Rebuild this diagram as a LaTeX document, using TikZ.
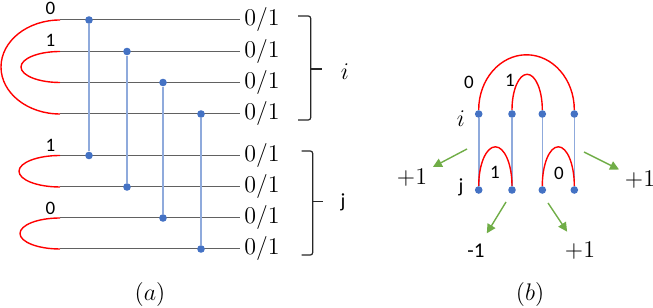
\documentclass[tikz,border=0pt]{standalone}
\usepackage{amsmath}
\usepackage{fontspec}
\setmainfont{Carlito}
\usepackage{tikz}
\usetikzlibrary{
  arrows.meta,
  positioning,
  calc
}
\usepackage{xcolor}
\definecolor{dotblue}{RGB}{68,114,196}
\definecolor{linkblue}{RGB}{143,170,220}
\definecolor{gaingreen}{RGB}{112,173,71}

\tikzset{
  wire/.style={black!62, line width=0.5pt},
  qdot/.style={circle, fill=dotblue, inner sep=0pt, minimum size=3.8pt},
  link/.style={linkblue, line width=0.8pt},
  loopline/.style={red, line width=0.7pt},
  bracket/.style={black!85, line width=0.6pt, rounded corners=1.2pt},
  gain/.style={gaingreen, line width=0.7pt, -{Triangle[length=4.5pt, width=4.5pt]}},
  bit/.style={font=\fontsize{9.5}{11}\selectfont, inner sep=1pt},
  mathlbl/.style={font=\fontsize{11.5}{13}\selectfont, inner sep=1pt},
  outlbl/.style={font=\fontsize{11.5}{13}\selectfont, anchor=west, inner sep=2pt}
}

\begin{document}
\begin{tikzpicture}[x=0.5pt, y=-0.5pt]
  \useasboundingbox (0,0) rectangle (653,308);

  % ---------- (a) ----------
  % Wires and outputs
  \foreach \k/\y in {1/20, 2/51.5, 3/82.5, 4/114, 5/155.5, 6/187, 7/218, 8/249}{
    \coordinate (L\k) at (60,\y);
    \node[outlbl] (o\k) at (240,\y) {$0/1$};
    \draw[wire] (L\k) -- (o\k.west);
  }

  % Red loops on the left
  \draw[loopline] (L1) arc[start angle=270, end angle=90, x radius=59, y radius=47];
  \draw[loopline] (L2) arc[start angle=270, end angle=90, x radius=39, y radius=15.5];
  \draw[loopline] (L5) arc[start angle=270, end angle=90, x radius=41, y radius=15.75];
  \draw[loopline] (L7) arc[start angle=270, end angle=90, x radius=40, y radius=15.5];

  % Bits on the loops
  \node[bit] (b1) at (50.5,8) {0};
  \node[bit] (b2) at (50.5,40) {1};
  \node[bit] (b5) at (50.5,145.5) {1};
  \node[bit] (b7) at (50.5,208.5) {0};

  % Couplings between i and j
  \foreach \c/\x/\ya/\yb in {1/89/20/155.5, 2/127/51.5/187,
                             3/163/82.5/218, 4/201/114/249}{
    \node[qdot] (u\c) at (\x,\ya) {};
    \node[qdot] (v\c) at (\x,\yb) {};
    \draw[link] (u\c) -- (v\c);
  }

  % Brackets
  \draw[bracket] (298,16) -- (310.7,16) -- (310.7,120) -- (298,120);
  \draw[bracket] (310.7,69) -- (321.7,69);
  \draw[bracket] (301.7,151) -- (312.7,151) -- (312.7,255) -- (301.7,255);
  \draw[bracket] (312.7,201.7) -- (322.7,201.7);
  \node[mathlbl] (ilbl) at (345,72) {$i$};
  \node[bit, font=\fontsize{10}{12}\selectfont] (jlbl) at (343,202) {j};

  \node[mathlbl] (capa) at (150,295) {$(a)$};

  % ---------- (b) ----------
  \foreach \k/\x in {1/478.7, 2/512, 3/542.3, 4/574.3}{
    \node[qdot] (ti\k) at (\x,114) {};
    \node[qdot] (bj\k) at (\x,190) {};
    \draw[link] (ti\k) -- (bj\k);
  }

  % Loops above the dots
  \draw[loopline] (ti1.north) arc[start angle=180, end angle=360, x radius=47.8, y radius=55];
  \draw[loopline] (ti2.north) arc[start angle=180, end angle=360, x radius=15.15, y radius=35.5];
  \draw[loopline] (bj1.north) arc[start angle=180, end angle=360, x radius=16.65, y radius=39];
  \draw[loopline] (bj3.north) arc[start angle=180, end angle=360, x radius=16, y radius=39];

  \node[bit] (c0) at (469,82) {0};
  \node[bit] (c1) at (510,80) {1};
  \node[mathlbl] (ib) at (461,119) {$i$};
  \node[bit, font=\fontsize{10}{12}\selectfont] (jb) at (461,187) {j};
  \node[bit] (d1) at (495,172) {1};
  \node[bit] (d0) at (559,173) {0};

  % Energy changes
  \node[mathlbl] (pl) at (412,178) {$+1$};
  \node[mathlbl] (pr) at (640,180) {$+1$};
  \node[bit, font=\fontsize{10.5}{12}\selectfont] (ml) at (476,251) {-1};
  \node[mathlbl] (mr) at (580,251) {$+1$};
  \coordinate (gl) at (467,149);
  \coordinate (gr) at (584,152);
  \coordinate (gml) at (506,202);
  \coordinate (gmr) at (548,203);
  \draw[gain, shorten >=2pt] (gl) -- (pl);
  \draw[gain, shorten >=2pt] (gr) -- (pr);
  \draw[gain, shorten >=5pt] (gml) -- (ml);
  \draw[gain, shorten >=5pt] (gmr) -- (mr);

  \node[mathlbl] (capb) at (530,295) {$(b)$};
\end{tikzpicture}
\end{document}
